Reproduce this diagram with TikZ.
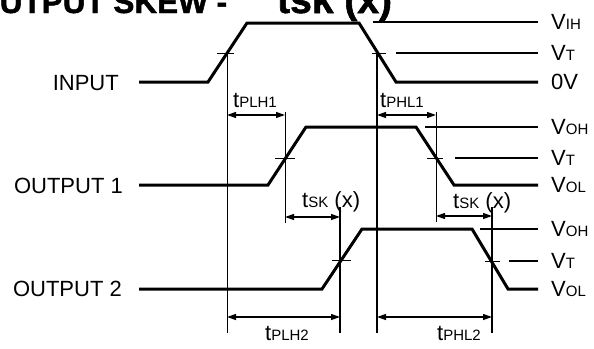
\documentclass[tikz,border=0pt]{standalone}
\usepackage{fontspec}
\setmainfont{Liberation Sans}
\newfontfamily\ttlfont{Liberation Sans Bold}[FakeBold=1.5]
\usetikzlibrary{arrows.meta}
\newcommand\lsub[1]{{\fontsize{15}{16}\selectfont #1}}
\begin{document}
\begin{tikzpicture}[x=1pt,y=-1pt,
  wave/.style={line width=3pt,line join=miter},
  lvl/.style={line width=1.1pt},
  vthin/.style={line width=1pt},
  vthick/.style={line width=1.8pt},
  tickmark/.style={line width=0.9pt},
  dim/.style={line width=1.2pt,{Triangle[length=9pt,width=6pt]}-{Triangle[length=9pt,width=6pt]}},
  lab/.style={font=\fontsize{22}{24}\selectfont,inner sep=0pt},
  ttl/.style={font=\ttlfont\fontsize{31.5}{33}\selectfont,inner sep=0pt}]
\clip (0,0) rectangle (594,348);
% title
\node[ttl,anchor=base west] (title) at (-25,13) {OUTPUT SKEW -\hspace{50pt}{\fontsize{39}{41}\selectfont tsk (x)}};
% waveform points
\coordinate (a0) at (139,82); \coordinate (a1) at (208,82); \coordinate (a2) at (247,23);
\coordinate (a3) at (359,23); \coordinate (a4) at (396,82); \coordinate (a5) at (538,82);
\coordinate (b0) at (139,185); \coordinate (b1) at (268,185); \coordinate (b2) at (306,127);
\coordinate (b3) at (416,127); \coordinate (b4) at (454,185); \coordinate (b5) at (538,185);
\coordinate (c0) at (139,289); \coordinate (c1) at (322,289); \coordinate (c2) at (362,229);
\coordinate (c3) at (472,229); \coordinate (c4) at (508,289); \coordinate (c5) at (538,289);
\draw[wave] (a0) -- (a1) -- (a2) -- (a3) -- (a4) -- (a5);
\draw[wave] (b0) -- (b1) -- (b2) -- (b3) -- (b4) -- (b5);
\draw[wave] (c0) -- (c1) -- (c2) -- (c3) -- (c4) -- (c5);
% level lines
\coordinate (vih0) at (373,22); \coordinate (vih1) at (538,22);
\coordinate (vt10) at (396,53); \coordinate (vt11) at (538,53);
\coordinate (voh10) at (425,127); \coordinate (voh11) at (538,127);
\coordinate (vt20) at (455,158); \coordinate (vt21) at (538,158);
\coordinate (voh20) at (480,229); \coordinate (voh21) at (538,229);
\coordinate (vt30) at (509,261); \coordinate (vt31) at (538,261);
\draw[lvl] (vih0) -- (vih1);
\draw[lvl] (vt10) -- (vt11);
\draw[lvl] (voh10) -- (voh11);
\draw[lvl] (vt20) -- (vt21);
\draw[lvl] (voh20) -- (voh21);
\draw[lvl] (vt30) -- (vt31);
% ticks at crossings
\coordinate (t1a) at (217,53); \coordinate (t1b) at (234,53);
\coordinate (t2a) at (372,53); \coordinate (t2b) at (386,53);
\coordinate (t3a) at (275,158); \coordinate (t3b) at (295,158);
\coordinate (t4a) at (427,158); \coordinate (t4b) at (443,158);
\coordinate (t5a) at (332,260); \coordinate (t5b) at (351,260);
\coordinate (t6a) at (485,261); \coordinate (t6b) at (500,261);
\draw[tickmark] (t1a) -- (t1b);
\draw[tickmark] (t2a) -- (t2b);
\draw[tickmark] (t3a) -- (t3b);
\draw[tickmark] (t4a) -- (t4b);
\draw[tickmark] (t5a) -- (t5b);
\draw[tickmark] (t6a) -- (t6b);
% vertical reference lines
\coordinate (x1t) at (227,53); \coordinate (x1b) at (227,333);
\coordinate (x2t) at (377,53); \coordinate (x2b) at (377,333);
\coordinate (x3t) at (285,112); \coordinate (x3b) at (285,223);
\coordinate (x4t) at (436,112); \coordinate (x4b) at (436,222);
\coordinate (x5t) at (340,207); \coordinate (x5b) at (340,333);
\coordinate (x6t) at (492,207); \coordinate (x6b) at (492,333);
\draw[vthin] (x1t) -- (x1b);
\draw[vthick] (x2t) -- (x2b);
\draw[vthin] (x3t) -- (x3b);
\draw[vthin] (x4t) -- (x4b);
\draw[vthick] (x5t) -- (x5b);
\draw[vthick] (x6t) -- (x6b);
% dimension arrows
\coordinate (d1a) at (227,115); \coordinate (d1b) at (285,115);
\coordinate (d2a) at (377,115); \coordinate (d2b) at (436,115);
\coordinate (d3a) at (285,217); \coordinate (d3b) at (340,217);
\coordinate (d4a) at (436,216); \coordinate (d4b) at (492,216);
\coordinate (d5a) at (227,317); \coordinate (d5b) at (340,317);
\coordinate (d6a) at (377,317); \coordinate (d6b) at (492,317);
\draw[dim] (d1a) -- (d1b);
\draw[dim] (d2a) -- (d2b);
\draw[dim] (d3a) -- (d3b);
\draw[dim] (d4a) -- (d4b);
\draw[dim] (d5a) -- (d5b);
\draw[dim] (d6a) -- (d6b);
% timing labels
\node[lab,anchor=base west] (lplh1) at (233,107) {t\lsub{PLH1}};
\node[lab,anchor=base west] (lphl1) at (380,107) {t\lsub{PHL1}};
\node[lab,anchor=base west] (lsk1) at (302,207) {t\lsub{SK} (x)};
\node[lab,anchor=base west] (lsk2) at (453,208) {t\lsub{SK} (x)};
\node[lab,anchor=base west] (lplh2) at (265,340) {t\lsub{PLH2}};
\node[lab,anchor=base west] (lphl2) at (437,340) {t\lsub{PHL2}};
% signal names
\node[lab,anchor=base east] (nin) at (119,90) {INPUT};
\node[lab,anchor=base east] (no1) at (123,193) {OUTPUT 1};
\node[lab,anchor=base east] (no2) at (122,296) {OUTPUT 2};
% level names
\node[lab,anchor=base west] (rvih) at (551,29) {V\lsub{IH}};
\node[lab,anchor=base west] (rvt1) at (551,60) {V\lsub{T}};
\node[lab,anchor=base west] (r0v) at (551,89) {0V};
\node[lab,anchor=base west] (rvoh1) at (551,134) {V\lsub{OH}};
\node[lab,anchor=base west] (rvt2) at (551,165) {V\lsub{T}};
\node[lab,anchor=base west] (rvol1) at (551,192) {V\lsub{OL}};
\node[lab,anchor=base west] (rvoh2) at (551,236) {V\lsub{OH}};
\node[lab,anchor=base west] (rvt3) at (551,268) {V\lsub{T}};
\node[lab,anchor=base west] (rvol2) at (551,296) {V\lsub{OL}};
\end{tikzpicture}
\end{document}
